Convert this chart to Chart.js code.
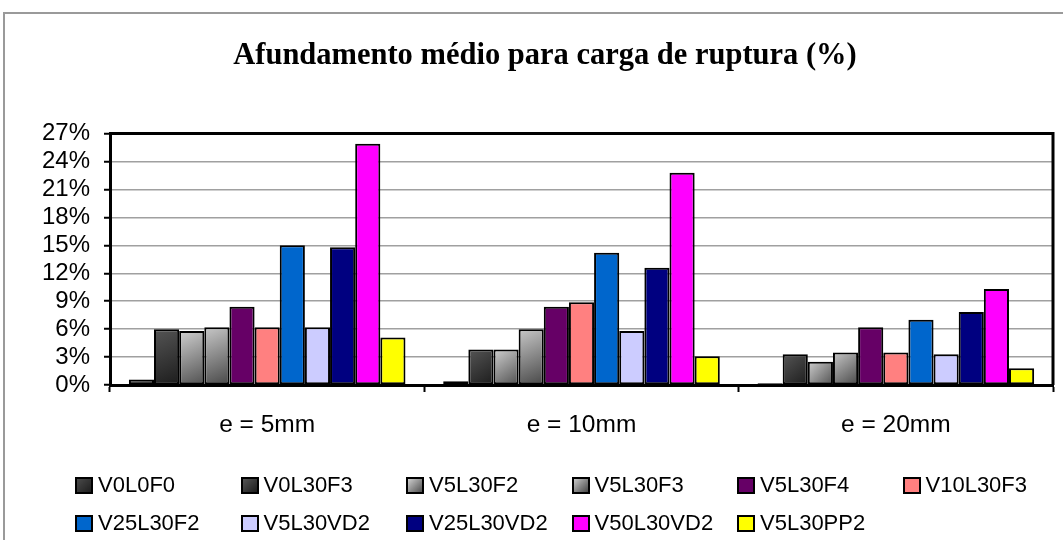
<!DOCTYPE html>
<html>
<head>
<meta charset="utf-8">
<script src="https://cdn.jsdelivr.net/npm/chart.js@4.4.1/dist/chart.umd.min.js"></script>
<style>
  html, body { margin: 0; padding: 0; background: #fff; overflow: hidden; }
  #wrap { position: relative; width: 1063px; height: 540px; }
  #frame { position: absolute; left: 3px; top: 12px; width: 1100px; height: 600px;
           border-left: 2px solid #9a9a9a; border-top: 2px solid #9a9a9a; }
  canvas { position: absolute; left: 0; top: 0; }
  #legend { position: absolute; left: 75px; top: 470px; display: grid;
            grid-template-columns: repeat(6, 165.5px); grid-auto-rows: 38px;
            font-family: "Liberation Sans", Arial, sans-serif; font-size: 22px; color: #000; }
  .item { display: flex; align-items: center; height: 30px; white-space: nowrap; }
  .box { width: 14px; height: 13px; border: 2px solid #000; margin-right: 5px; flex: none; }
</style>
</head>
<body>
<div id="wrap">
  <div id="frame"></div>
  <canvas id="c" width="1063" height="540"></canvas>
  <div id="legend"></div>
</div>
<script>
const titleText = 'Afundamento médio para carga de ruptura (%)';
const categories = ['e = 5mm', 'e = 10mm', 'e = 20mm'];
const seriesNames = ['V0L0F0', 'V0L30F3', 'V5L30F2', 'V5L30F3', 'V5L30F4', 'V10L30F3',
                     'V25L30F2', 'V5L30VD2', 'V25L30VD2', 'V50L30VD2', 'V5L30PP2'];
const V0L0F0    = [0.6, 0.4, 0.2];
const V0L30F3   = [6.0, 3.8, 3.3];
const V5L30F2   = [5.8, 3.8, 2.5];
const V5L30F3   = [6.2, 6.0, 3.5];
const V5L30F4   = [8.4, 8.4, 6.2];
const V10L30F3  = [6.2, 8.9, 3.5];
const V25L30F2  = [15.0, 14.2, 7.0];
const V5L30VD2  = [6.2, 5.8, 3.3];
const V25L30VD2 = [14.8, 12.6, 7.85];
const V50L30VD2 = [25.9, 22.8, 10.3];
const V5L30PP2  = [5.1, 3.1, 1.8];
const seriesValues = [V0L0F0, V0L30F3, V5L30F2, V5L30F3, V5L30F4, V10L30F3,
                      V25L30F2, V5L30VD2, V25L30VD2, V50L30VD2, V5L30PP2];
const yTicks = [0, 3, 6, 9, 12, 15, 18, 21, 24, 27];

// colour styles: solid or [light, dark] gradient
const seriesColors = [
  ['#4a4a4a', '#1e1e1e'],
  ['#555555', '#1c1c1c'],
  ['#cfcfcf', '#505050'],
  ['#c8c8c8', '#474747'],
  '#660066', '#FF8080', '#0066CC', '#CCCCFF', '#000080', '#FF00FF', '#FFFF00'
];

const CAT_PCT = 0.88;

function bg(i) {
  const col = seriesColors[i];
  if (typeof col === 'string') return col;
  return function(ctx) {
    const chart = ctx.chart;
    const xs = chart.scales.x, ys = chart.scales.y;
    if (!chart.chartArea || !xs || !ys || ctx.raw === undefined) return col[1];
    const catW = xs.width / categories.length;
    const barW = catW * CAT_PCT / seriesNames.length;
    const cx = xs.getPixelForValue(ctx.dataIndex) + (ctx.datasetIndex - (seriesNames.length - 1) / 2) * barW;
    const top = ys.getPixelForValue(ctx.raw), base = ys.getPixelForValue(0);
    const g = chart.ctx.createLinearGradient(cx - barW / 2, top, cx + barW / 2, Math.max(base, top + 1));
    g.addColorStop(0, col[0]);
    g.addColorStop(1, col[1]);
    return g;
  };
}

const datasets = seriesNames.map((name, i) => ({
  label: name,
  data: seriesValues[i],
  backgroundColor: bg(i),
  borderColor: '#000',
  borderWidth: 2,
  borderSkipped: false,
  categoryPercentage: CAT_PCT,
  barPercentage: 1.0
}));

const frameRect = {
  id: 'frameRect',
  afterDraw(chart) {
    const { ctx, chartArea: a } = chart;
    ctx.save();
    ctx.strokeStyle = '#000';
    ctx.lineWidth = 3;
    ctx.beginPath();
    ctx.moveTo(a.left, a.top);
    ctx.lineTo(a.right, a.top);
    ctx.lineTo(a.right, a.bottom);
    ctx.stroke();
    ctx.restore();
  }
};

const chart = new Chart(document.getElementById('c'), {
  type: 'bar',
  data: { labels: categories, datasets },
  plugins: [frameRect],
  options: {
    responsive: false,
    animation: false,
    layout: { padding: { left: 37, right: 10, top: 0, bottom: 0 } },
    plugins: {
      legend: { display: false },
      tooltip: { enabled: false },
      title: {
        display: true,
        text: titleText,
        color: '#000',
        font: { family: '"Liberation Serif", "Times New Roman", serif', size: 30.5, weight: 'bold', lineHeight: 1.2 },
        padding: { top: 38, bottom: 59 }
      }
    },
    scales: {
      x: {
        offset: true,
        afterFit(s) { s.height = 155; },
        grid: { display: true, drawOnChartArea: false, offset: true, tickLength: 7, tickColor: '#000', tickWidth: 2 },
        border: { display: true, color: '#000', width: 3 },
        ticks: { color: '#000', padding: 19, font: { family: '"Liberation Sans", Arial, sans-serif', size: 24.5 } }
      },
      y: {
        min: 0, max: 27,
        afterFit(s) { s.width = 73; },
        afterBuildTicks(s) { s.ticks = yTicks.map(v => ({ value: v })); },
        grid: { color: '#a0a0a0', lineWidth: 1.5, tickLength: 6, tickColor: '#000', tickWidth: 2 },
        border: { display: true, color: '#000', width: 3 },
        ticks: {
          color: '#000', padding: 14, autoSkip: false,
          font: { family: '"Liberation Sans", Arial, sans-serif', size: 24 },
          callback: v => v + '%'
        }
      }
    }
  }
});

// HTML legend built from the chart's datasets
const legend = document.getElementById('legend');
chart.data.datasets.forEach((ds, i) => {
  const col = seriesColors[i];
  const item = document.createElement('div');
  item.className = 'item';
  const box = document.createElement('span');
  box.className = 'box';
  box.style.background = typeof col === 'string' ? col : `linear-gradient(135deg, ${col[0]}, ${col[1]})`;
  const txt = document.createElement('span');
  txt.textContent = ds.label;
  item.appendChild(box);
  item.appendChild(txt);
  legend.appendChild(item);
});
</script>
</body>
</html>
